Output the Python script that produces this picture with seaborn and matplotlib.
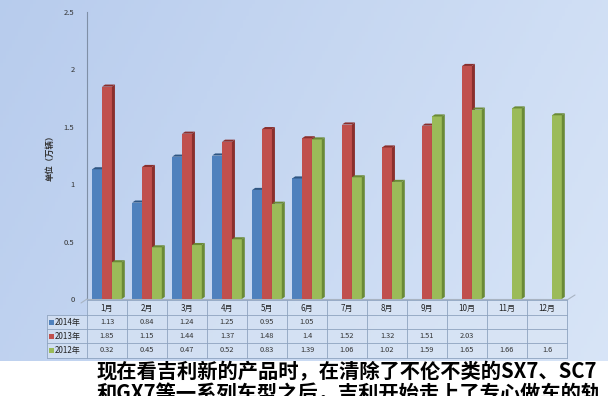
import numpy as np
import pandas as pd
import matplotlib
matplotlib.use("Agg")
import matplotlib.pyplot as plt
from matplotlib.patches import Rectangle, Polygon
import seaborn as sns

months = ["1月", "2月", "3月", "4月", "5月", "6月", "7月", "8月", "9月", "10月", "11月", "12月"]
years = ["2014年", "2013年", "2012年"]
v2014 = [1.13, 0.84, 1.24, 1.25, 0.95, 1.05, None, None, None, None, None, None]
v2013 = [1.85, 1.15, 1.44, 1.37, 1.48, 1.4, 1.52, 1.32, 1.51, 2.03, None, None]
v2012 = [0.32, 0.45, 0.47, 0.52, 0.83, 1.39, 1.06, 1.02, 1.59, 1.65, 1.66, 1.6]
colors = ["#4f81bd", "#c0504d", "#9bbb59"]
side_colors = ["#2f5683", "#8a2f2d", "#6a8a36"]
yticks = [0, 0.5, 1, 1.5, 2, 2.5]
ylabel = "单位（万辆）"
caption1 = "现在看吉利新的产品时，在清除了不伦不类的SX7、SC7"
caption2 = "和GX7等一系列车型之后，吉利开始走上了专心做车的轨"

series = [v2014, v2013, v2012]
rows = []
for y, vals in zip(years, series):
    for m, v in zip(months, vals):
        if v is not None:
            rows.append({"月份": m, "年份": y, "销量": v})
df = pd.DataFrame(rows)

sns.set_theme(style="white")
plt.rcParams["font.family"] = ["Noto Sans CJK SC", "DejaVu Sans"]

W, H = 608, 396
fig = plt.figure(figsize=(W / 100, H / 100), dpi=100)

def fx(px):
    return px / W

def fy(py):
    return 1 - py / H

# background gradient
bg = fig.add_axes([0, 0, 1, 1], zorder=0)
gx = np.linspace(0, 1, 200)
gy = np.linspace(0, 1, 100)
GX, GY = np.meshgrid(gx, gy)
c0 = np.array([0.72, 0.80, 0.93])
c1 = np.array([0.85, 0.90, 0.97])
t = np.clip(0.75 * GX + 0.25 * GY, 0, 1)[..., None]
img = c0 * (1 - t) + c1 * t
bg.imshow(img, aspect="auto", extent=[0, W, H, 0])
bg.set_xlim(0, W)
bg.set_ylim(H, 0)
bg.axis("off")

# main chart axes
left, right, top, bottom = 87, 567, 12, 299
ax = fig.add_axes([fx(left), fy(bottom), fx(right) - fx(left), fy(top) - fy(bottom)], zorder=1)
ax.set_facecolor("none")
sns.barplot(data=df, x="月份", y="销量", hue="年份", order=months, hue_order=years,
            palette=colors, width=0.74, errorbar=None, legend=False, ax=ax,
            saturation=1, linewidth=0)
ax.set_xlim(-0.5, len(months) - 0.5)
ax.set_ylim(0, 2.5)
ax.set_yticks(yticks)
ax.set_yticklabels([f"{v:g}" for v in yticks], fontsize=5.5, color="#333333")
ax.tick_params(axis="y", length=0, pad=9)
ax.set_xticks([])
ax.set_xlabel("")
ax.set_ylabel(ylabel, fontsize=6, fontweight="bold", color="#333333", labelpad=7)
for s in ["top", "right"]:
    ax.spines[s].set_visible(False)
ax.spines["left"].set_color("#7f8fa6")
ax.spines["left"].set_linewidth(0.8)
ax.spines["bottom"].set_color("#a9b4c2")
ax.spines["bottom"].set_linewidth(0.8)

# 3D-like side and top faces
d = 0.075
e = 0.018
hexcols = [matplotlib.colors.to_hex(c) for c in colors]
bars = [p for p in ax.patches if isinstance(p, Rectangle)]
for p in bars:
    h = p.get_height()
    if not np.isfinite(h) or h <= 0:
        continue
    fc = matplotlib.colors.to_hex(p.get_facecolor())
    idx = hexcols.index(fc) if fc in hexcols else 0
    z = 2 + idx
    p.set_zorder(z)
    x0 = p.get_x()
    x1 = x0 + p.get_width()
    side = Polygon([(x1, 0), (x1 + d, e), (x1 + d, h + e), (x1, h)], closed=True,
                   facecolor=side_colors[idx], edgecolor="none", zorder=z)
    topf = Polygon([(x0, h), (x0 + d, h + e), (x1 + d, h + e), (x1, h)], closed=True,
                   facecolor=side_colors[idx], edgecolor="none", zorder=z)
    ax.add_patch(side)
    ax.add_patch(topf)

# overlay axes in pixel coordinates for the data table and caption
ov = fig.add_axes([0, 0, 1, 1], zorder=3)
ov.set_xlim(0, W)
ov.set_ylim(H, 0)
ov.axis("off")
ov.set_facecolor("none")

# floor slant
ov.plot([right, right + 8], [bottom + 1, bottom - 4], color="#a9b4c2", lw=0.8)
ov.plot([left, left - 6], [bottom, bottom + 4], color="#a9b4c2", lw=0.8)

col_w = (right - left) / len(months)
row_y = [300, 315, 329, 343, 358]
lab_left = 47
gridc = "#8ea3bf"
ov.add_patch(Rectangle((left, row_y[0]), right - left, row_y[-1] - row_y[0],
                       facecolor="#dbe6f4", edgecolor="none", alpha=0.6))
ov.add_patch(Rectangle((lab_left, row_y[1]), left - lab_left, row_y[-1] - row_y[1],
                       facecolor="#dbe6f4", edgecolor="none", alpha=0.6))
for i, yy in enumerate(row_y):
    x_start = left if i == 0 else lab_left
    ov.plot([x_start, right], [yy, yy], color=gridc, lw=0.6)
for j in range(len(months) + 1):
    xx = left + j * col_w
    ov.plot([xx, xx], [row_y[0], row_y[-1]], color=gridc, lw=0.6)
ov.plot([lab_left, lab_left], [row_y[1], row_y[-1]], color=gridc, lw=0.6)

for j, m in enumerate(months):
    ov.text(left + (j + 0.5) * col_w, (row_y[0] + row_y[1]) / 2 + 0.5, m,
            ha="center", va="center", fontsize=5.8, color="#222222")
for i, (yname, vals) in enumerate(zip(years, series)):
    yc = (row_y[i + 1] + row_y[i + 2]) / 2
    ov.add_patch(Rectangle((lab_left + 2, yc - 2.5), 5, 5, facecolor=colors[i], edgecolor="none"))
    ov.text(lab_left + 8, yc, yname, ha="left", va="center", fontsize=5.8, color="#222222")
    for j, v in enumerate(vals):
        if v is not None:
            ov.text(left + (j + 0.5) * col_w, yc, f"{v:g}", ha="center", va="center",
                    fontsize=5.3, color="#333333")

# caption strip
ov.add_patch(Rectangle((0, 361), W, H - 361, facecolor="white", edgecolor="none"))
ov.text(97, 361, caption1, ha="left", va="top", fontsize=14.6, fontweight="heavy",
        color="black")
ov.text(97, 383, caption2, ha="left", va="top", fontsize=14.6, fontweight="heavy",
        color="black")

fig.savefig("out.png", dpi=100)
